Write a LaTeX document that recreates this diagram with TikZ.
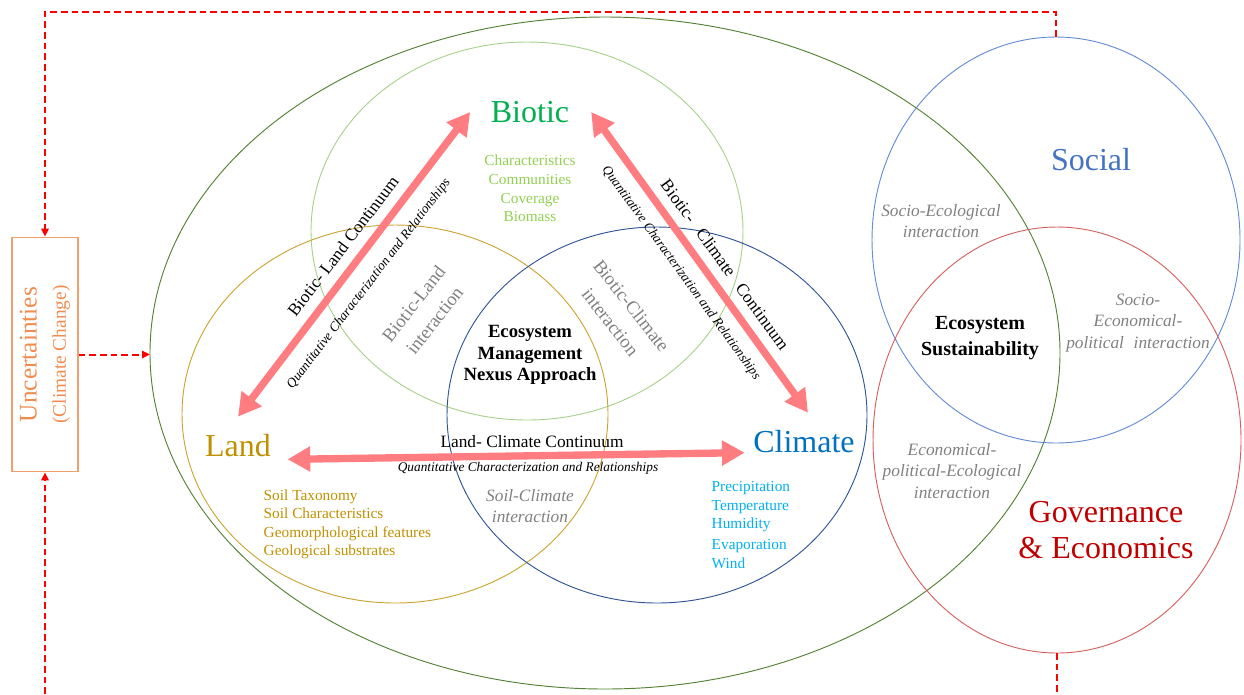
\documentclass[tikz,border=0pt]{standalone}
\usepackage{fontspec}
\setmainfont{Liberation Serif}
\usepackage{tikz}
\usetikzlibrary{arrows.meta,shapes.geometric,positioning}

\definecolor{ecoGreen}{RGB}{84,130,53}
\definecolor{bioRing}{RGB}{169,209,142}
\definecolor{bioText}{RGB}{0,176,80}
\definecolor{bioList}{RGB}{146,208,80}
\definecolor{landGold}{RGB}{191,144,0}
\definecolor{landRing}{RGB}{204,164,50}
\definecolor{climRing}{RGB}{47,85,151}
\definecolor{climText}{RGB}{0,112,192}
\definecolor{climList}{RGB}{0,176,240}
\definecolor{socBlue}{RGB}{68,114,196}
\definecolor{socRing}{RGB}{100,140,214}
\definecolor{govText}{RGB}{192,0,0}
\definecolor{govRing}{RGB}{214,96,96}
\definecolor{contRed}{RGB}{255,124,128}
\definecolor{loopRed}{RGB}{255,0,0}
\definecolor{uncOrange}{RGB}{240,140,80}
\definecolor{uncFrame}{RGB}{240,160,110}
\definecolor{interGray}{RGB}{128,128,128}

\tikzset{
	realm/.style={ellipse, draw=#1, line width=0.7pt, inner sep=0pt, outer sep=0pt},
	heading/.style={font=\fontsize{24}{28}\selectfont},
	itemlist/.style={font=\fontsize{11.5}{13.9}\selectfont, align=center},
	core/.style={font=\bfseries\fontsize{14}{16}\selectfont, align=center},
	interact/.style={text=interGray, font=\itshape\fontsize{13}{16}\selectfont, align=center},
	continuum/.style={contRed, line width=5.5pt,
		{Triangle[length=17pt,width=18pt]}-{Triangle[length=17pt,width=18pt]}},
	contlabel/.style={font=\fontsize{13}{15}\selectfont},
	quantlabel/.style={font=\itshape\fontsize{10}{12}\selectfont},
	feedback/.style={loopRed, line width=1.5pt, dash pattern=on 5pt off 3pt},
	fbtip/.style={-{Triangle[length=6pt,width=5.5pt]}}
}

\begin{document}
\begin{tikzpicture}[x=0.75pt, y=-0.75pt]
	\useasboundingbox (0,0) rectangle (1244,694);

	% the six realms
	\node[realm=ecoGreen, minimum width=682.5pt, minimum height=504pt] (ecosys) at (605,353) {};
	\node[realm=bioRing, minimum width=324pt, minimum height=283.5pt] (bioring) at (527,231) {};
	\node[realm=landRing, minimum width=319.5pt, minimum height=283.5pt] (landring) at (395,414) {};
	\node[realm=climRing, minimum width=315pt, minimum height=282pt] (climring) at (657,415) {};
	\node[realm=socRing, minimum width=276pt, minimum height=304.5pt] (socring) at (1056,240) {};
	\node[realm=govRing, minimum width=276pt, minimum height=319.5pt] (govring) at (1057,440) {};

	% uncertainties box and the feedback loop
	\node[draw=uncFrame, line width=0.8pt, rotate=90, minimum width=176pt, minimum height=49.5pt,
		align=center, text=uncOrange, font=\fontsize{19}{22}\selectfont] (unc) at (45,354.5)
		{Uncertainties\\\fontsize{14.5}{22}\selectfont (Climate Change)};
	\coordinate (topleft) at (45,12);
	\coordinate (botleft) at (45,694);
	\coordinate (botright) at (1057,694);
	\draw[feedback, fbtip] (socring.north) |- (topleft) -- (unc.east);
	\draw[feedback, fbtip] (botleft) -- (unc.west);
	\draw[feedback] (govring.south) -- (botright);
	\draw[feedback, fbtip] (unc.south) -- (unc.south -| ecosys.west);

	% headings
	\node[heading, text=bioText] (biotic) at (530,112) {Biotic};
	\node[heading, text=landGold] (land) at (238,446) {Land};
	\node[heading, text=climText] (climate) at (804,442) {Climate};
	\node[heading, text=socBlue] (social) at (1091,160) {Social};
	\node[heading, text=govText, align=center, font=\fontsize{24}{27}\selectfont] (gov) at (1106,530) {Governance\\\& Economics};

	% attribute lists
	\node[itemlist, text=bioList] (biolist) at (530,188.5) {Characteristics\\Communities\\Coverage\\Biomass};
	\node[itemlist, text=landGold, align=left, anchor=west] (landlist) at (259,524.5)
		{Soil Taxonomy\\Soil Characteristics\\Geomorphological features\\Geological substrates};
	\node[itemlist, text=climList, align=left, anchor=west] (climlist) at (707,525)
		{Precipitation\\Temperature\\Humidity\\[1.5pt]Evaporation\\Wind};

	% continuum arrows
	\draw[continuum] ([xshift=-12pt]biotic.west) -- ([yshift=10pt]land.north);
	\draw[continuum] ([xshift=13pt]biotic.east) -- ([xshift=3pt,yshift=10pt]climate.north);
	\draw[continuum] ([xshift=9pt,yshift=-10pt]land.east) -- ([xshift=-3pt,yshift=-8pt]climate.west);

	\node[contlabel, rotate=52.6] (blcont) at (343,246) {Biotic- Land Continuum};
	\node[quantlabel, rotate=52.6] (blquant) at (369,284) {Quantitative Characterization and Relationships};
	\node[contlabel, rotate=-54] (bccont) at (725,264.5) {Biotic-\hspace{6pt} Climate\hspace{6pt} Continuum};
	\node[quantlabel, rotate=-54] (bcquant) at (681,273) {Quantitative Characterization and Relationships};
	\node[contlabel] (lccont) at (532,442) {Land- Climate Continuum};
	\node[quantlabel] (lcquant) at (528,468) {Quantitative Characterization and Relationships};

	% overlaps
	\node[interact, font=\fontsize{14}{20}\selectfont, rotate=52] (bland) at (424,312) {Biotic-Land\\interaction};
	\node[interact, font=\fontsize{14}{20}\selectfont, rotate=-52] (bclim) at (621,314) {Biotic-Climate\\interaction};
	\node[interact] (soilclim) at (530,506) {Soil-Climate\\interaction};
	\node[interact] (socioeco) at (941,221) {Socio-Ecological\\interaction};
	\node[interact] (socioecon) at (1138,323) {Socio-\\Economical-\\political\hspace{4pt} interaction};
	\node[interact] (econpol) at (952,471) {Economical-\\political-Ecological\\interaction};

	\node[core] (nexus) at (530,355) {Ecosystem\\Management\\Nexus Approach};
	\node[core, font=\bfseries\fontsize{15}{19.5}\selectfont] (sustain) at (980,338) {Ecosystem\\Sustainability};
\end{tikzpicture}
\end{document}
